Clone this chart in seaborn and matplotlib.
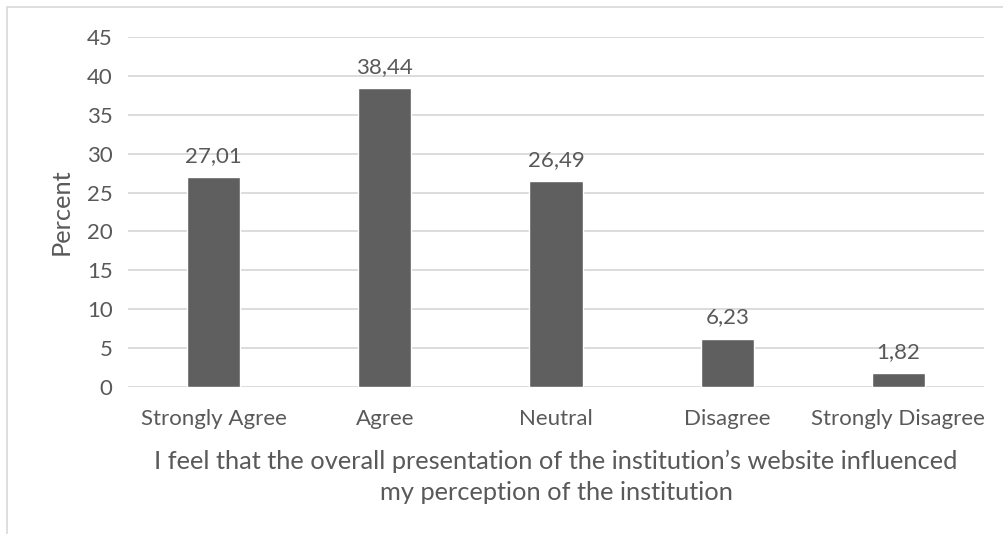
import matplotlib
matplotlib.use("Agg")
import matplotlib.pyplot as plt
from matplotlib.lines import Line2D
import seaborn as sns
import pandas as pd

categories = ["Strongly Agree", "Agree", "Neutral", "Disagree", "Strongly Disagree"]
percent = [27.01, 38.44, 26.49, 6.23, 1.82]
y_ticks = [0, 5, 10, 15, 20, 25, 30, 35, 40, 45]
x_title = "I feel that the overall presentation of the institution\u2019s website influenced\nmy perception of the institution"
y_title = "Percent"

sns.set_theme(style="white")
plt.rcParams["font.family"] = ["Lato", "DejaVu Sans"]

text_color = "#595959"
bar_color = "#5f5f5f"
grid_color = "#d9d9d9"

df = pd.DataFrame({"category": categories, "percent": percent})

W, H = 1004, 534
fig = plt.figure(figsize=(W / 100, H / 100), dpi=100)
ax = fig.add_axes([128 / W, 1 - 387 / H, (984 - 128) / W, (387 - 37) / H])

sns.barplot(data=df, x="category", y="percent", color=bar_color,
            width=0.31, saturation=1, ax=ax, zorder=3)

ax.set_ylim(0, 45)
ax.set_yticks(y_ticks)
ax.set_xlim(-0.5, len(categories) - 0.5)
ax.yaxis.grid(True, color=grid_color, linewidth=1.3, zorder=0)
ax.set_axisbelow(True)
for s in ax.spines.values():
    s.set_visible(False)

ax.tick_params(axis="both", length=0, colors=text_color, labelsize=16)
ax.tick_params(axis="y", pad=11)
ax.tick_params(axis="x", pad=16)

ax.set_xlabel(x_title, color=text_color, fontsize=18.3, labelpad=15, linespacing=1.38)
ax.set_ylabel(y_title, color=text_color, fontsize=18.3, labelpad=10)

for i, v in enumerate(percent):
    ax.annotate(f"{v:.2f}".replace(".", ","), (i, v), xytext=(0, 8),
                textcoords="offset points", ha="center", va="bottom",
                color=text_color, fontsize=16)

# thin chart-area frame along the top and left
fig.add_artist(Line2D([7 / W, 1], [1 - 7 / H, 1 - 7 / H], transform=fig.transFigure,
                      color=grid_color, linewidth=1.2))
fig.add_artist(Line2D([7 / W, 7 / W], [0, 1 - 7 / H], transform=fig.transFigure,
                      color=grid_color, linewidth=1.2))

fig.savefig("out.png", dpi=100, facecolor="white")
